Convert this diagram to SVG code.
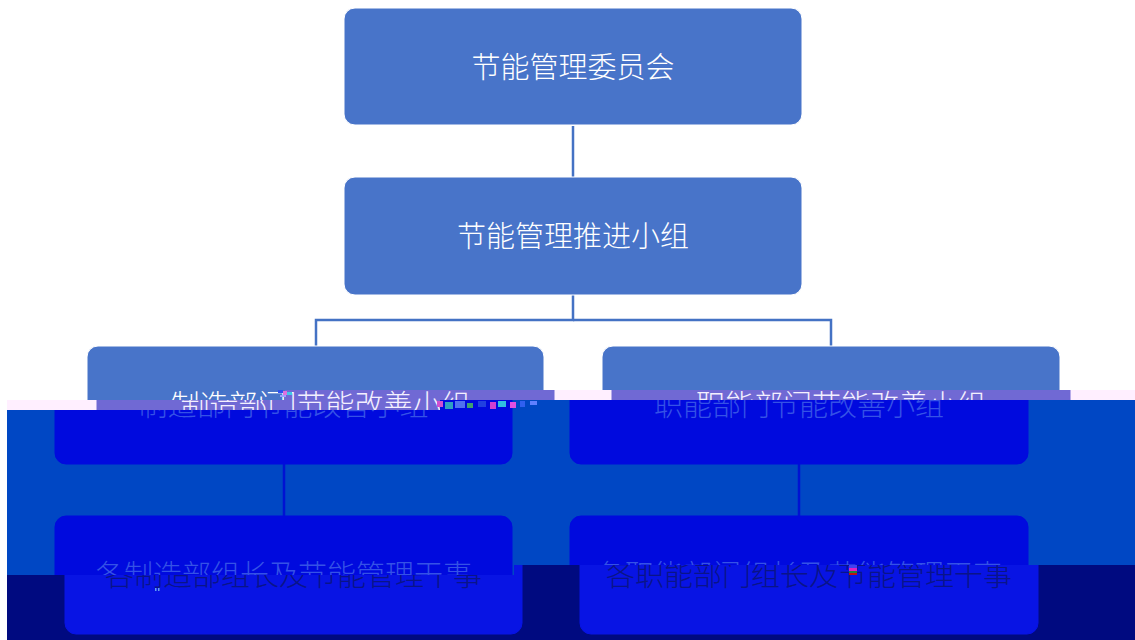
<svg xmlns="http://www.w3.org/2000/svg" xmlns:xlink="http://www.w3.org/1999/xlink" width="1135" height="640" viewBox="0 0 1135 640">
<style>
.bg{fill:var(--bg,#ffffff)}
.bx{fill:var(--bx,#4874C9);stroke:var(--bs,#ffffff);stroke-width:1}
.tx{fill:var(--tx,#ffffff);font-family:"Noto Sans CJK SC","Noto Sans CJK JP",sans-serif;font-size:29px;font-weight:300;text-anchor:middle}
.ln{stroke:var(--ln,#4472C4);stroke-width:2.5;fill:none}
.band{--bg:#FFEFFF;--bx:#7069D4;--bs:#7069D4;--tx:#f4f0ff;--ln:#7069D4}
.s2{--bg:#0047C4;--bx:#000ADE;--bs:#000ADE;--tx:#3552E6;--ln:#0012D2}
.s3{--bg:#000A80;--bx:#0814E4;--bs:#0814E4;--tx:#0A1488;--ln:#0814E4}
</style>
<defs>
<clipPath id="cN"><polygon points="0,0 1135,0 1135,390 285,390 285,400 0,400"/></clipPath>
<clipPath id="cB"><polygon points="285,390 1135,390 1135,400 440,400 440,410 0,410 0,400 285,400"/></clipPath>
<clipPath id="c2"><polygon points="440,400 1135,400 1135,565 514,565 514,575 0,575 0,410 440,410"/></clipPath>
<clipPath id="c3"><polygon points="514,565 1135,565 1135,640 0,640 0,575 514,575"/></clipPath>
</defs>
<g clip-path="url(#cN)">
<g id="scene">
<rect class="bg" x="-60" y="0" width="1260" height="640"/>
<g id="connectors">
<line class="ln" x1="573" y1="126" x2="573" y2="177"/>
<polyline class="ln" points="573,295 573,320 316,320 316,346"/>
<polyline class="ln" points="573,320 831,320 831,346"/>
<line class="ln" x1="316" y1="464" x2="316" y2="516"/>
<line class="ln" x1="831" y1="464" x2="831" y2="516"/>
</g>
<g id="n1"><rect class="bx" x="344" y="8" width="458" height="117" rx="11"/><text class="tx" x="573" y="77.5">节能管理委员会</text></g>
<g id="n2"><rect class="bx" x="344" y="177" width="458" height="118" rx="11"/><text class="tx" x="573" y="247">节能管理推进小组</text></g>
<g id="n3"><rect class="bx" x="87" y="346" width="457" height="118" rx="11"/><text class="tx" x="315.5" y="416">制造部门节能改善小组</text></g>
<g id="n4"><rect class="bx" x="602" y="346" width="458" height="118" rx="11"/><text class="tx" x="831" y="416">职能部门节能改善小组</text></g>
<g id="n5"><rect class="bx" x="87" y="516" width="457" height="118" rx="11"/><text class="tx" x="315.5" y="586">各制造部组长及节能管理干事</text></g>
<g id="n6"><rect class="bx" x="602" y="516" width="458" height="118" rx="11"/><text class="tx" x="831" y="586">各职能部门组长及节能管理干事</text></g>
</g>
</g>
<g clip-path="url(#cB)"><use xlink:href="#scene" href="#scene" class="band" transform="translate(10,0)"/></g>
<g clip-path="url(#c2)"><use xlink:href="#scene" href="#scene" class="s2" transform="translate(-32,0)"/></g>
<g clip-path="url(#c3)"><use xlink:href="#scene" href="#scene" class="s3" transform="translate(-22,0)"/></g>
<rect x="0" y="400" width="7" height="240" fill="#ffffff"/>
<g id="artifacts">
<rect x="278" y="390" width="5" height="3" fill="#3050F0"/>
<rect x="283" y="391" width="4" height="4" fill="#E070E0"/>
<rect x="287" y="392" width="5" height="3" fill="#40C8E8"/>
<rect x="280" y="395" width="6" height="2" fill="#A0A0FF"/>
<rect x="437" y="401" width="6" height="6" fill="#D050D0"/>
<rect x="445" y="402" width="8" height="7" fill="#30A0C0"/>
<rect x="455" y="401" width="10" height="7" fill="#5070F0"/>
<rect x="467" y="403" width="6" height="5" fill="#40A070"/>
<rect x="478" y="401" width="8" height="6" fill="#2040E0"/>
<rect x="490" y="402" width="6" height="7" fill="#D040D0"/>
<rect x="498" y="401" width="8" height="6" fill="#30C0E0"/>
<rect x="510" y="402" width="6" height="6" fill="#E050E0"/>
<rect x="520" y="401" width="5" height="6" fill="#3060F0"/>
<rect x="530" y="401" width="7" height="4" fill="#6080FF"/>
<rect x="849" y="565" width="8" height="3" fill="#4040F0"/>
<rect x="849" y="568" width="8" height="3" fill="#E020C0"/>
<rect x="849" y="571" width="8" height="2" fill="#208040"/>
<rect x="849" y="573" width="8" height="2" fill="#C01010"/>
<rect x="155" y="588" width="1.5" height="3" fill="#60A0F0"/>
<rect x="158" y="588" width="1.5" height="3" fill="#60A0F0"/>
</g>
</svg>
